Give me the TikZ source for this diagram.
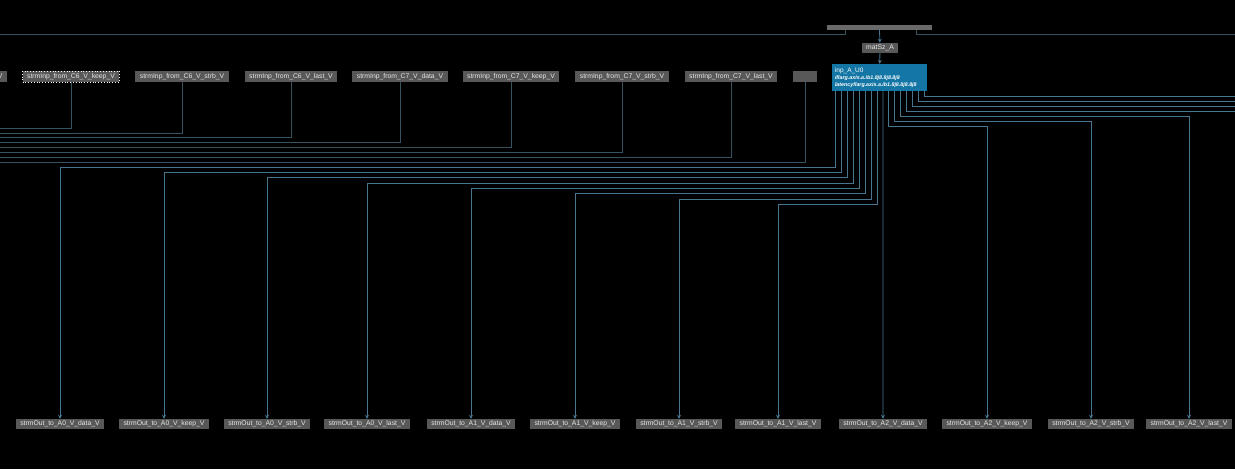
\documentclass[tikz,border=0pt]{standalone}
\usepackage{fontspec}
\setmainfont{Liberation Sans}
\usetikzlibrary{arrows.meta}
\definecolor{boxgray}{RGB}{88,88,88}
\definecolor{bargray}{RGB}{105,105,105}
\definecolor{txtgray}{RGB}{230,230,230}
\definecolor{wireteal}{RGB}{55,82,96}
\definecolor{wireblue}{RGB}{72,118,145}
\definecolor{inpblue}{RGB}{20,118,165}
\begin{document}
\begin{tikzpicture}[
  x=1pt, y=-1pt,
  port/.style={rectangle, fill=boxgray, text=txtgray, font=\fontsize{6.8}{7}\selectfont, inner xsep=4.5pt, inner ysep=0pt, minimum height=11pt},
  outport/.style={port, minimum height=10pt},
  inpbox/.style={rectangle, fill=inpblue, text=white, minimum width=95pt, minimum height=27pt, text width=89pt, inner sep=3pt, align=left, font=\fontsize{6.5}{8}\selectfont},
  wire/.style={draw=wireteal, line width=0.8pt},
  bluewire/.style={draw=wireblue, line width=0.8pt},
  flow/.style={bluewire, -{Stealth[length=4pt,width=4pt]}}
]
  \fill[black] (0,0) rectangle (1235,469);
  \useasboundingbox (0,0) rectangle (1235,469);

  % stream inputs along the top
  \node[port, anchor=east] (C6data) at (7,76.5) {strmInp\_from\_C6\_V\_data\_V};
  \node[port, draw=white!80, dotted, thick] (C6keep) at (71,76.5) {strmInp\_from\_C6\_V\_keep\_V};
  \foreach \nm/\lab/\xx in {C6strb/C6\_V\_strb/182, C6last/C6\_V\_last/291, C7data/C7\_V\_data/400,
      C7keep/C7\_V\_keep/511, C7strb/C7\_V\_strb/622, C7last/C7\_V\_last/731}
    \node[port] (\nm) at (\xx,76.5) {strmInp\_from\_\lab\_V};
  \node[port, minimum width=24pt] (stub) at (805,76.5) {};

  \foreach \nm [count=\j from 0] in {C6keep,C6strb,C6last,C7data,C7keep,C7strb,C7last,stub} {
    \coordinate (lw\j) at (0,{128+4.9*\j});
    \draw[wire] (\nm.south) |- (lw\j);
  }

  % group bar, size and kernel
  \node[rectangle, fill=bargray, minimum width=105pt, minimum height=5pt, inner sep=0pt] (grp) at (879.5,27.5) {};
  \node[outport] (matSzA) at (880,48) {matSz\_A};
  \node[inpbox] (inpAU0) at (879.5,77.5) {inp\_A\_U0\\[-1pt]
    {\fontsize{5.3}{6}\selectfont\bfseries\itshape iflarg.axis.a.ib1.8j8.8j8.8j8}\\[-1pt]
    {\fontsize{5.3}{6}\selectfont\bfseries\itshape latencyflarg.axis.a.ib1.8j8.8j8.8j8}};

  \coordinate (topL) at (0,34.5);
  \coordinate (topR) at (1235,34.5);
  \draw[wire] (topL) -| ([xshift=-34.5pt]grp.south);
  \draw[wire] ([xshift=36.5pt]grp.south) |- (topR);
  \draw[flow] (grp.south) -- (matSzA);
  \draw[flow] (matSzA) -- (inpAU0);

  % stream outputs along the bottom
  \foreach \nm/\lab/\xx in {o0/A0\_V\_data/60, o1/A0\_V\_keep/164, o2/A0\_V\_strb/267, o3/A0\_V\_last/367,
      o4/A1\_V\_data/471, o5/A1\_V\_keep/575, o6/A1\_V\_strb/679, o7/A1\_V\_last/778,
      o8/A2\_V\_data/883, o9/A2\_V\_keep/987, o10/A2\_V\_strb/1091, o11/A2\_V\_last/1189}
    \node[outport] (\nm) at (\xx,424) {strmOut\_to\_\lab\_V};

  \foreach \k/\yy in {0/167, 1/172.3, 2/177.6, 3/182.9, 4/188.2, 5/193.5, 6/198.8, 7/204.1,
      9/126, 10/121, 11/116}
    \draw[flow] ([xshift={4+5.89*\k}]inpAU0.south west) -- ++(0,{\yy-91}) -| (o\k.north);
  \draw[flow] ([xshift={4+5.89*8}]inpAU0.south west) -- (o8.north);
  \foreach \k in {12,...,15} {
    \coordinate (rw\k) at (1235,{111-5*(\k-12)});
    \draw[bluewire] ([xshift={4+5.89*\k}]inpAU0.south west) |- (rw\k);
  }
\end{tikzpicture}
\end{document}
